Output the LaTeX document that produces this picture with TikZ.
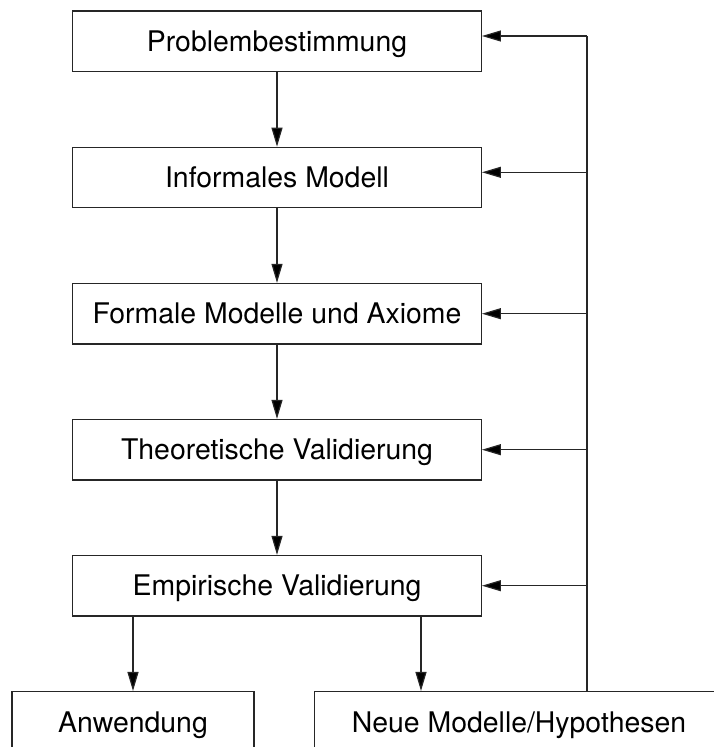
\documentclass[tikz,border=0pt]{standalone}
\usepackage{fontspec}
\setmainfont{TeX Gyre Heros}
\usetikzlibrary{arrows.meta}

\tikzset{
  boxtext/.style={font=\fontsize{28.4}{34}\selectfont,
    text height=20.4pt, text depth=0pt},
  stage/.style={boxtext, draw=black!85, line width=1.3pt,
    minimum width=408.6pt, minimum height=60.4pt, inner sep=0pt},
  flow/.style={draw=black!85, line width=1.2pt,
    -{Triangle[length=19pt,width=11pt,fill=black]}},
  wire/.style={draw=black!85, line width=1.2pt}
}

\begin{document}
\begin{tikzpicture}[x=1pt, y=-1pt]
  % page frame; the two result boxes run past its lower and right edges
  \clip (0,0) rectangle (714,747);
  \fill[white] (0,0) rectangle (714,747);

  % main chain of stages
  \node[stage] (prob) at (277,41.3)  {Problembestimmung};
  \node[stage] (info) at (277,177.5) {Informales Modell};
  \node[stage] (form) at (277,313.7) {Formale Modelle und Axiome};
  \node[stage] (theo) at (277,449.7) {Theoretische Validierung};
  \node[stage] (emp)  at (277,585.7) {Empirische Validierung};

  % results
  \node[stage, minimum width=242pt] (anw) at (133,721.8) {Anwendung};
  \node[stage] (neu) at (519,721.8) {Neue Modelle/Hypothesen};

  % downward flow
  \draw[flow] (prob) -- (info);
  \draw[flow] (info) -- (form);
  \draw[flow] (form) -- (theo);
  \draw[flow] (theo) -- (emp);
  \draw[flow] (emp.south -| anw.north) -- (anw.north);
  \draw[flow] (emp.south -| 421,0) -- (neu.north -| 421,0);

  % feedback line from the new models back to every stage
  \coordinate (fbtop) at (587,36);
  \coordinate (fbbot) at (neu.north -| 587,0);
  \draw[wire] (fbbot) -- (fbtop);
  \draw[flow] (fbtop) -- (fbtop -| prob.east);
  \draw[flow] (587,172.3) -- (info.east |- 0,172.3);
  \draw[flow] (587,313.7) -- (form.east);
  \draw[flow] (587,449.7) -- (theo.east);
  \draw[flow] (587,585.7) -- (emp.east);
\end{tikzpicture}
\end{document}
